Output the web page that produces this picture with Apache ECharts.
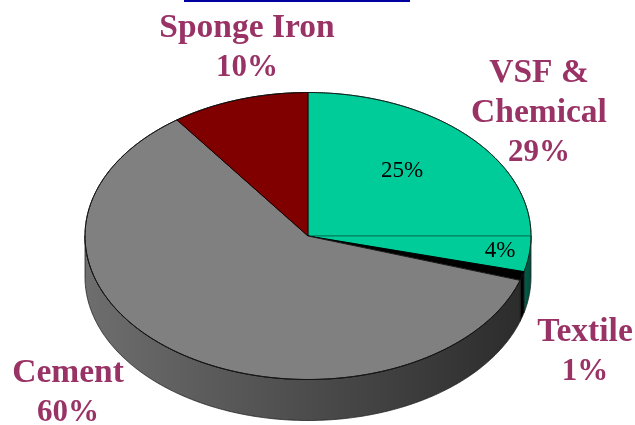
<!DOCTYPE html>
<html><head><meta charset="utf-8">
<style>html,body{margin:0;padding:0;background:#fff}#c{width:635px;height:425px}</style>
<script src="https://cdn.jsdelivr.net/npm/echarts@6/dist/echarts.min.js"></script>
</head><body><div id="c"></div>
<script>
// Data
const sliceNames = ['VSF', 'Chemical', 'Textile', 'Cement', 'Sponge Iron'];
const sliceValues = [25, 4, 1, 60, 10];
const innerLabels = ['25%', '4%'];
const outerNames = ['Sponge Iron', 'VSF &\nChemical', 'Textile', 'Cement'];
const outerShares = ['10%', '29%', '1%', '60%'];

// Style and layout
const topColors = ['#00cc99', '#00cc99', '#000000', '#808080', '#800000'];
const edgeColors = ['#007a5c', '#007a5c', '#000000', '#1a1a1a', '#1a0000'];
const wallColors = [
  ['#006a50', '#006a50'], ['#00604a', '#004c3a'], ['#000000', '#000000'],
  ['#6e6e6e', '#2c2c2c'], ['#400000', '#400000']
];
const cx = 308, cy = 236, rx = 223, ry = 143.5, depth = 41;
const innerPos = [[402, 171], [500, 251]];
const outerPos = [[247, 48], [539, 113], [585, 352], [68, 393]];

const pt = (deg, dy) => {
  const t = deg * Math.PI / 180;
  return [cx + rx * Math.sin(t), cy - ry * Math.cos(t) + (dy || 0)];
};
const arc = (a, b, dy) => {
  const out = [];
  const n = Math.max(1, Math.ceil((b - a) / 0.5));
  for (let i = 0; i <= n; i++) out.push(pt(a + (b - a) * i / n, dy));
  return out;
};
const total = sliceValues.reduce((s, v) => s + v, 0);

function renderItem(params, api) {
  const i = params.dataIndex;
  let before = 0;
  for (let k = 0; k < i; k++) before += sliceValues[k];
  const a = before / total * 360;
  const b = (before + api.value(0)) / total * 360;
  const children = [];
  const wa = Math.max(a, 90), wb = Math.min(b, 270);
  if (wb > wa) {
    const top = arc(wa, wb, 0), bot = arc(wa, wb, depth).reverse();
    children.push({
      type: 'polygon',
      shape: { points: top.concat(bot) },
      style: {
        fill: new echarts.graphic.LinearGradient(0, 0, 1, 0, [
          { offset: 0, color: wallColors[i][0] },
          { offset: 1, color: wallColors[i][1] }
        ]),
        stroke: '#222', lineWidth: 0.8
      }
    });
  }
  children.push({
    type: 'polygon',
    shape: { points: [[cx, cy]].concat(arc(a, b, 0)) },
    style: { fill: topColors[i], stroke: edgeColors[i], lineWidth: 1 }
  });
  children.push({
    type: 'polyline',
    shape: { points: arc(a, b, 0) },
    style: { fill: null, stroke: '#111', lineWidth: 0.9 }
  });
  return { type: 'group', children };
}

const nameFont = 'bold 33.5px "Liberation Serif", serif';
const shareFont = 'bold 31px "Liberation Serif", serif';
const graphics = [
  { type: 'rect', shape: { x: 184, y: 0, width: 226, height: 2 }, style: { fill: '#0000a0' } }
];
outerNames.forEach((n, i) => graphics.push({
  type: 'text', x: outerPos[i][0], y: outerPos[i][1], z: 20,
  style: {
    text: n.split('\n').map(s => '{n|' + s + '}').join('\n') + '\n{s|' + outerShares[i] + '}',
    align: 'center', verticalAlign: 'middle',
    rich: {
      n: { font: nameFont, fill: '#993366', lineHeight: 39.5, align: 'center' },
      s: { font: shareFont, fill: '#993366', lineHeight: 39.5, align: 'center' }
    }
  }
}));
innerLabels.forEach((n, i) => graphics.push({
  type: 'text', x: innerPos[i][0], y: innerPos[i][1], z: 20,
  style: { text: n, font: '23px "Liberation Serif", serif', fill: '#000',
           align: 'center', verticalAlign: 'middle' }
}));

const chart = echarts.init(document.getElementById('c'), null, { renderer: 'canvas' });
chart.setOption({
  animation: false,
  backgroundColor: '#ffffff',
  graphic: graphics,
  series: [{
    type: 'custom',
    coordinateSystem: 'none',
    renderItem,
    silent: true,
    clip: false,
    data: sliceNames.map((name, i) => ({ name, value: [sliceValues[i]] }))
  }]
});
</script></body></html>
